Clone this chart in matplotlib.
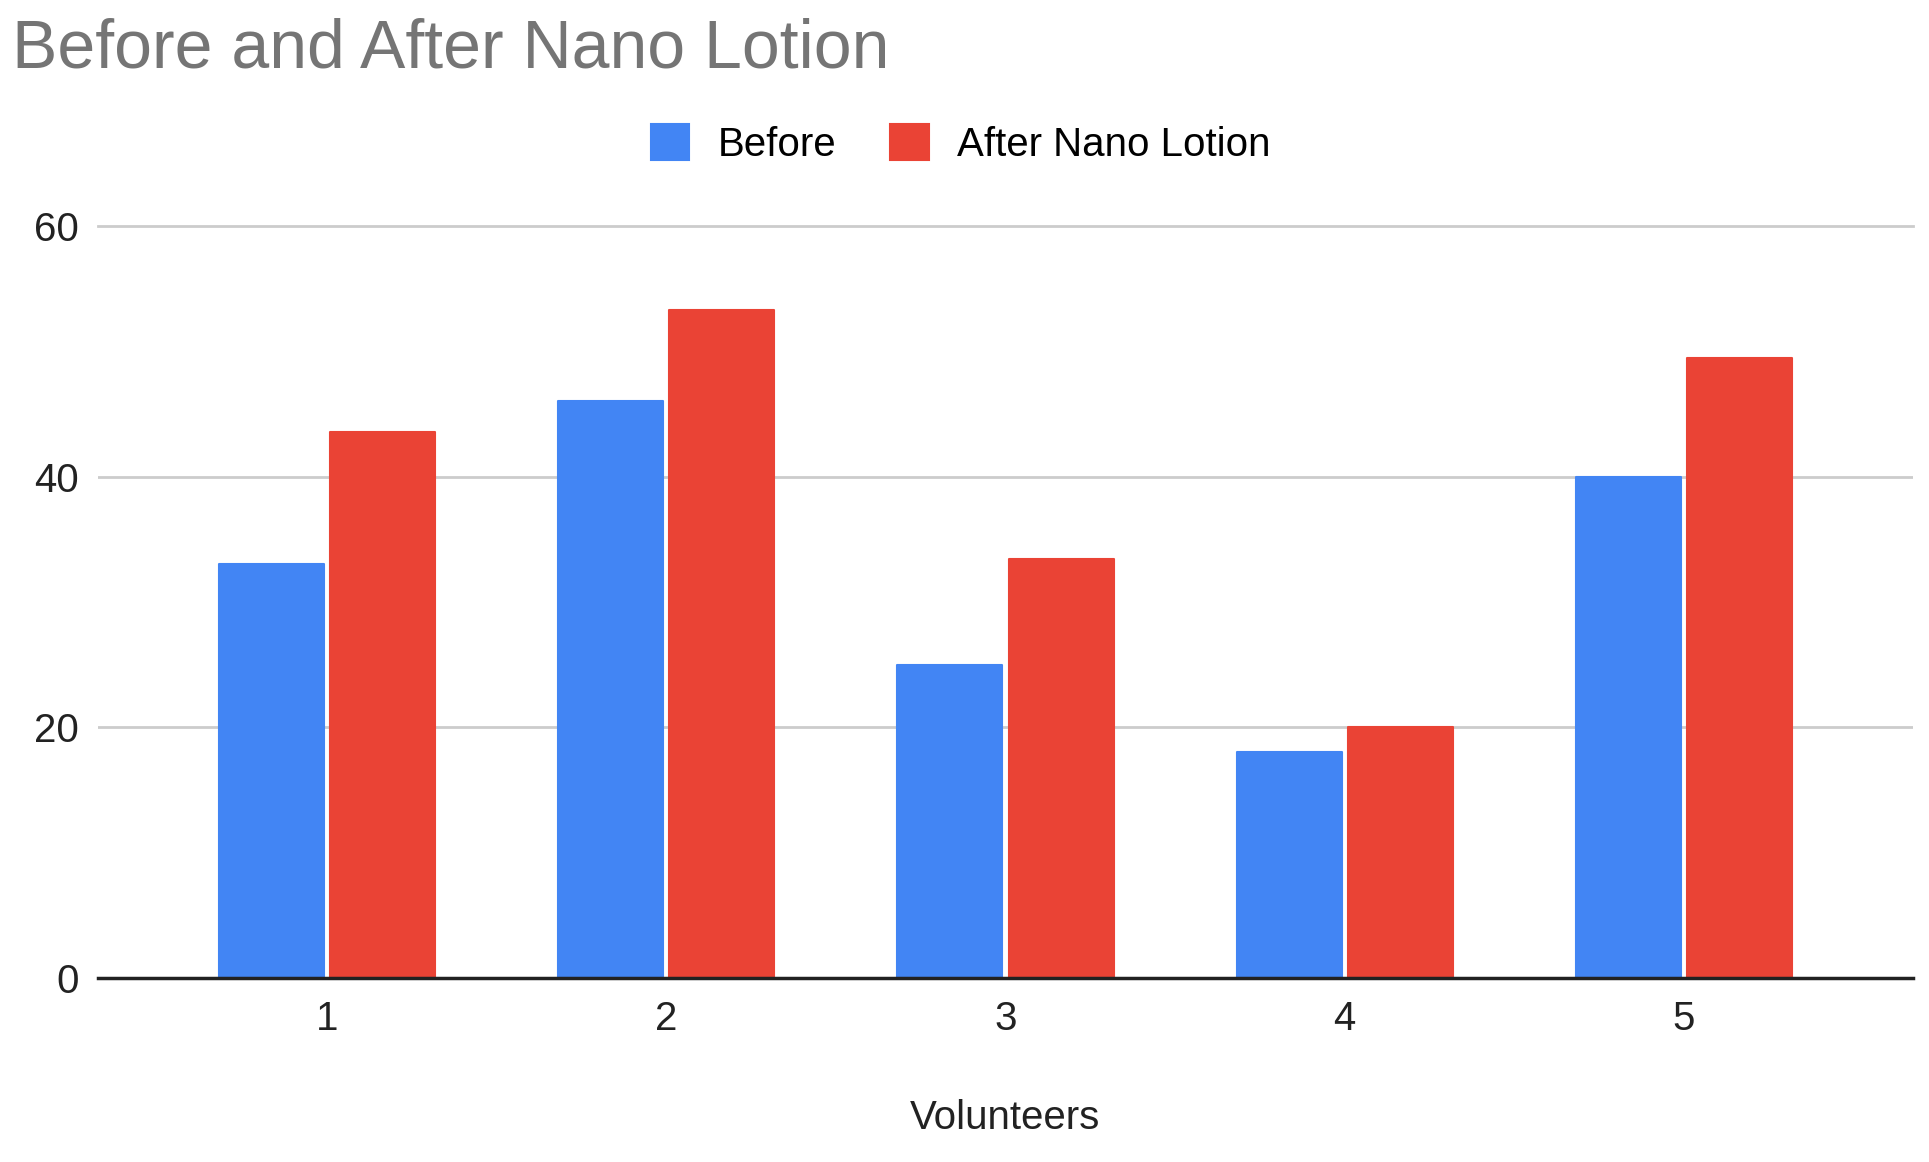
import numpy as np
import matplotlib
matplotlib.use("Agg")
import matplotlib.pyplot as plt

# Data
volunteers = ["1", "2", "3", "4", "5"]
before = [33, 46, 25, 18, 40]
after_lotion = [43.6, 53.3, 33.4, 20, 49.5]
series_names = ["Before", "After Nano Lotion"]

BLUE = "#4285F4"
RED = "#EA4335"

plt.rcParams["font.family"] = ["Liberation Sans", "DejaVu Sans"]

fig = plt.figure(figsize=(19.29, 11.62), dpi=100)
ax = fig.add_axes([0.0508, 0.1583, 0.9409, 0.6472])

x = np.arange(1, len(volunteers) + 1)
w = 0.31
off = 0.164
ax.bar(x - off, before, w, color=BLUE, edgecolor=BLUE, linewidth=1.5,
       joinstyle="round", label=series_names[0], zorder=3)
ax.bar(x + off, after_lotion, w, color=RED, edgecolor=RED, linewidth=1.5,
       joinstyle="round", label=series_names[1], zorder=3)

ax.set_xlim(0.325, 5.675)
ax.set_ylim(0, 60)
ax.set_yticks([0, 20, 40, 60])
ax.set_xticks(x)
ax.set_xticklabels(volunteers)

# gridlines and spines
ax.yaxis.grid(True, color="#cccccc", linewidth=2)
ax.set_axisbelow(True)
for s in ["top", "right", "left"]:
    ax.spines[s].set_visible(False)
ax.spines["bottom"].set_color("#222222")
ax.spines["bottom"].set_linewidth(2.5)
ax.spines["bottom"].set_zorder(4)
ax.tick_params(axis="both", length=0, labelsize=29, colors="#222222")
ax.tick_params(axis="y", pad=14)
ax.tick_params(axis="x", pad=16)
for lbl in ax.get_yticklabels():
    lbl.set_clip_on(False)
ax.yaxis.get_gridlines()[-1].set_clip_on(False)

ax.set_xlabel("Volunteers", fontsize=29, color="#222222", labelpad=44)

# title
fig.text(0.006, 0.9415, "Before and After Nano Lotion", fontsize=49,
         color="#757575", ha="left", va="baseline")

# legend
fig.legend(loc="center", bbox_to_anchor=(0.498, 0.876), ncol=2, frameon=False,
           fontsize=29, handlelength=0.95, handleheight=1.0, handletextpad=0.7,
           columnspacing=1.35)

fig.savefig("out.png", dpi=100)
